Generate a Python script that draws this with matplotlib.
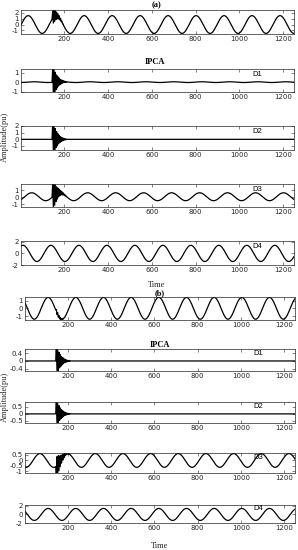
import numpy as np
import matplotlib.pyplot as plt

# sample index axis and waveform parameters
t = np.arange(1, 1251)
period = 128          # samples per cycle
t_burst = 143         # start of the disturbance
burst_step = 3
burst_shape = [0.0, 1.0, -0.8, 0.9, -0.75, 0.7, -0.55, 0.5, -0.42, 0.36, -0.3, 0.26,
               -0.21, 0.17, -0.14, 0.12, -0.1, 0.08, -0.06, 0.05, -0.04, 0.03, -0.02, 0.01, 0.0]

names = ['', 'D1', 'D2', 'D3', 'D4']

# (a)
amp_a = [1.5, 0.04, 0.0, 0.55, 1.4]
off_a = [0.0, 0.0, 0.0, 0.08, 0.0]
peak_a = [34, 60, 0, 50, 10]
burst_a = [1.2, 1.5, 2.3, 1.9, 0.0]
ylim_a = [(-1.6, 2.45), (-1.05, 1.4), (-1.6, 2.0), (-1.35, 1.85), (-2.0, 2.15)]
yticks_a = [[-1, 0, 1, 2], [-1, 0, 1], [-1, 0, 1, 2], [-1, 0, 1], [-2, 0, 2]]

# (b)
amp_b = [1.4, 0.0, 0.0, 0.62, 1.4]
off_b = [0.0, 0.0, 0.0, -0.02, 0.0]
peak_b = [108, 0, 0, 70, 108]
burst_b = [0.25, 0.65, 0.85, -1.0, 0.0]
ylim_b = [(-1.5, 1.45), (-0.52, 0.62), (-0.65, 0.85), (-1.15, 0.65), (-2.0, 2.2)]
yticks_b = [[-1, 0, 1], [-0.4, 0, 0.4], [-0.5, 0, 0.5], [-1, -0.5, 0, 0.5], [-2, 0, 2]]

# axes boxes in pixels: left, right, top, bottom
box_a = [(21, 294, 10, 34), (21, 294, 69, 92), (21, 294, 126, 150), (21, 294, 184, 207), (21, 294, 241, 265)]
box_b = [(25, 295, 297, 320), (25, 295, 349, 371), (25, 295, 402, 423), (25, 295, 453, 473), (25, 295, 505, 523)]

W, H = 298, 550
fig = plt.figure(figsize=(W / 100, H / 100), dpi=100)
grey = '0.15'


def wave(x, a, off, pk):
    return a * np.cos(2 * np.pi * (x - pk) / period) + off


def draw(box, a, off, pk, bu, yl, yt, name):
    l, r, tp, bt = box
    ax = fig.add_axes([l / W, 1 - bt / H, (r - l) / W, (bt - tp) / H])
    bt_x = t_burst + burst_step * np.arange(len(burst_shape))
    if bu != 0:
        x = np.concatenate([t[t < t_burst], bt_x, t[t > bt_x[-1]]])
        y = wave(x, a, off, pk)
        y[(x >= t_burst) & (x <= bt_x[-1])] += bu * np.array(burst_shape)
    else:
        x = t
        y = wave(x, a, off, pk)
    ax.plot(x, y, color='k', lw=0.9)
    ax.set_xlim(1, 1250)
    ax.set_ylim(*yl)
    ax.set_xticks([200, 400, 600, 800, 1000, 1200])
    ax.set_yticks(yt)
    ax.set_yticklabels([('%g' % v) for v in yt])
    ax.tick_params(direction='in', length=2, width=0.4, top=True, right=True,
                   labelsize=5, colors=grey, pad=1.5)
    for s in ax.spines.values():
        s.set_linewidth(0.5)
        s.set_color(grey)
    if name:
        ax.text(0.865, 0.78, name, transform=ax.transAxes, fontsize=5.5,
                ha='center', va='center', family='Liberation Sans')
    return ax


for i in range(5):
    draw(box_a[i], amp_a[i], off_a[i], peak_a[i], burst_a[i], ylim_a[i], yticks_a[i], names[i])
    draw(box_b[i], amp_b[i], off_b[i], peak_b[i], burst_b[i], ylim_b[i], yticks_b[i], names[i])

serif = 'Liberation Serif'
fig.text(157 / W, 1 - 5 / H, '(a)', ha='center', va='center', fontsize=6, weight='bold', family=serif)
fig.text(155 / W, 1 - 62 / H, 'IPCA', ha='center', va='center', fontsize=6, weight='bold', family=serif)
fig.text(157 / W, 1 - 285 / H, 'Time', ha='center', va='center', fontsize=6, color=grey, family=serif)
fig.text(160 / W, 1 - 293 / H, '(b)', ha='center', va='center', fontsize=6, weight='bold', family=serif)
fig.text(160 / W, 1 - 345 / H, 'IPCA', ha='center', va='center', fontsize=6, weight='bold', family=serif)
fig.text(160 / W, 1 - 546 / H, 'Time', ha='center', va='center', fontsize=6, color=grey, family=serif)
fig.text(5 / W, 1 - 137 / H, 'Amplitude(pu)', ha='center', va='center', rotation=90,
         fontsize=6, color=grey, family=serif)
fig.text(5 / W, 1 - 397 / H, 'Amplitude(pu)', ha='center', va='center', rotation=90,
         fontsize=6, color=grey, family=serif)

fig.savefig('out.png', dpi=100)
